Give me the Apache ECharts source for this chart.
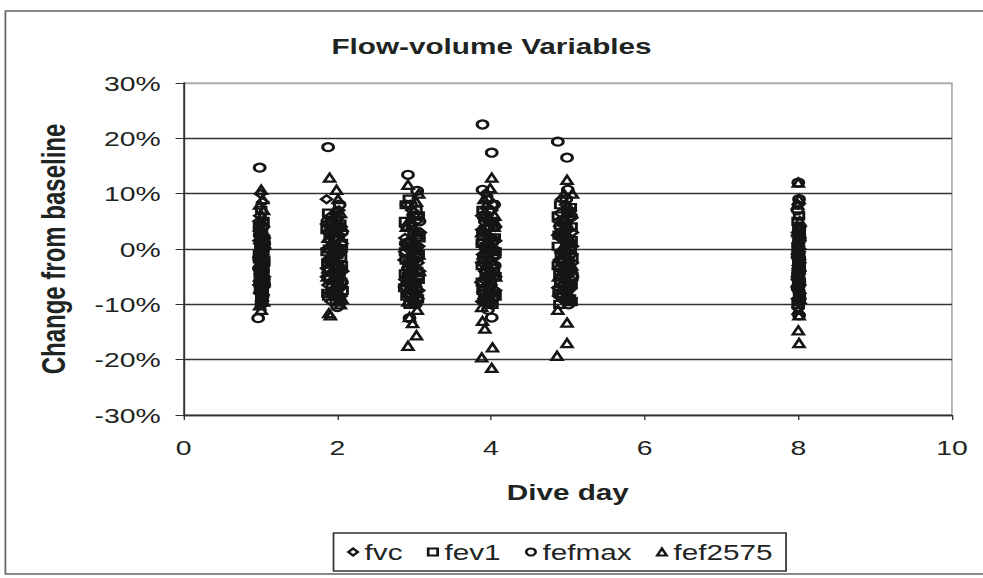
<!DOCTYPE html>
<html>
<head>
<meta charset="utf-8">
<script src="https://cdn.jsdelivr.net/npm/echarts@6.0.0/dist/echarts.min.js"></script>
<style>
html,body{margin:0;padding:0;background:#fff;}
#wrap{width:983px;height:578px;overflow:hidden;position:relative;background:#fff;}
#chart{width:728px;height:578px;transform:scaleX(1.3503);transform-origin:0 0;}
</style>
</head>
<body>
<div id="wrap"><div id="chart"></div></div>
<script>
// Tick labels / axis settings
const xTicks = [0, 2, 4, 6, 8, 10];
const yTicks = [-30, -20, -10, 0, 10, 20, 30];
const seriesNames = ['fvc', 'fev1', 'fefmax', 'fef2575'];

// [dive day (with scatter jitter), change from baseline in %]
const fvc = [
  [1.00,10],[1.03,8.5],[0.99,6],[1.04,4],[1.01,3],[1.05,2],[0.99,1],[1.02,0.5],[1.05,0],[1.00,-0.5],[1.03,-1],[0.98,-1.5],[1.04,-2],[1.01,-2.5],[1.04,-3],[0.99,-3.5],[1.02,-4],[1.05,-5],[1.00,-6],[1.03,-7],[0.99,-8],[1.02,-9.5],
  [0.98,5],[1.02,4.5],[1.00,3.5],[1.04,2.5],[0.98,1.5],[1.02,-0.2],[0.99,-2],[1.03,-3.2],[1.00,-4.5],[1.04,-5.5],[0.98,-6.5],[1.02,-7.5],
  [1.86,9],[2.02,7],[1.95,5],[2.05,4],[1.88,3],[1.98,2],[2.06,1],[1.87,0],[1.96,-0.5],[2.03,-1],[1.89,-2],[2.00,-3],[2.07,-4],[1.86,-5],[1.97,-6],[2.04,-7],[1.90,-8],[2.01,-9],
  [1.92,6],[2.00,5.5],[1.86,4.5],[1.94,3.5],[2.03,2.5],[1.90,1.5],[1.99,0.5],[2.05,-0.5],[1.92,-1.5],[1.86,-3.5],[1.94,-4.5],[2.02,-5.5],[1.88,-6.5],[1.95,-7.5],[2.05,-8.5],[1.92,-9.5],
  [2.90,8],[3.05,6],[2.95,4.5],[3.08,3],[2.88,2],[3.00,1],[3.06,0.5],[2.92,0],[3.02,-1],[2.87,-2],[2.98,-3],[3.07,-4],[2.91,-5],[3.03,-6],[2.89,-7],[2.99,-8],[3.05,-9],
  [2.97,7],[3.03,5],[2.89,4],[2.99,3.5],[3.06,2],[2.93,1.5],[2.88,-0.5],[2.97,-1.5],[3.05,-2.5],[2.92,-3.5],[3.00,-4.5],[2.88,-5.5],[2.96,-6.5],[3.06,-7.5],[2.92,-8.5],[3.00,-9.5],
  [3.93,10],[4.04,8],[3.88,6],[3.98,5],[4.06,4],[3.90,3],[4.01,2],[3.95,1],[4.05,0],[3.89,-1],[3.99,-2],[4.03,-3],[3.92,-4],[4.06,-5],[3.87,-6],[3.97,-7],[4.02,-8],[3.91,-9],[4.00,-10],
  [3.96,9],[4.01,7],[3.91,5.5],[4.03,4.5],[3.88,3.5],[3.96,2.5],[4.06,1.5],[3.90,0.5],[3.98,-0.5],[4.05,-1.5],[3.88,-2.5],[3.95,-3.5],[4.03,-4.5],[3.90,-5.5],[4.00,-6.5],[4.06,-7.5],[3.93,-8.5],[3.88,-9.5],
  [4.92,9],[5.03,7],[4.88,5],[4.98,4],[5.06,3],[4.90,2],[5.01,1],[4.95,0],[5.05,-1],[4.89,-2],[4.99,-3],[5.04,-4],[4.91,-5],[5.02,-6],[4.87,-7],[4.97,-8],[5.03,-9],
  [4.97,8],[4.90,6.5],[5.04,5.5],[4.93,4.5],[5.01,3.5],[4.87,2.5],[4.96,1.5],[5.06,0.5],[4.91,-0.5],[4.98,-1.5],[5.06,-2.5],[4.88,-3.5],[4.96,-4.5],[5.04,-5.5],[4.92,-6.5],[5.00,-7.5],[4.88,-8.5],[4.96,-9.5],
  [8.00,8],[8.02,4],[7.99,3],[8.01,2],[8.00,1],[8.02,0],[7.99,-1],[8.01,-2],[8.00,-3],[8.02,-4],[7.99,-5],[8.01,-6],[8.00,-7],[8.02,-8],[7.99,-9],
  [8.01,3.5],[7.99,2.5],[8.02,1.5],[8.00,0.5],[8.01,-0.5],[7.99,-1.5],[8.02,-2.5],[8.00,-3.5],[8.01,-4.5],[7.99,-5.5],[8.02,-6.5],[8.00,-7.5]
];
const fev1 = [
  [1.01,7],[1.04,5],[0.99,3],[1.02,2],[1.05,1.5],[1.00,0.5],[1.03,-0.5],[0.98,-1],[1.05,-2],[1.01,-3],[1.04,-4],[0.99,-4.5],[1.02,-5.5],[1.05,-6],[1.00,-7],[1.03,-8],[1.01,-9],
  [0.98,4],[1.02,2.8],[1.00,1],[1.04,0],[0.98,-1.8],[1.02,-2.5],[1.00,-3.5],[1.03,-5],[0.99,-6.3],[1.02,-7.5],
  [1.88,6.5],[1.99,6],[2.04,4.5],[1.86,3.5],[1.96,2],[2.06,1],[1.89,0],[2.00,-1],[2.05,-1.5],[1.87,-2.5],[1.97,-3.5],[2.03,-4.5],[1.90,-5.5],[2.01,-6.5],[2.07,-7.5],[1.88,-8.5],[1.98,-9.5],
  [1.92,5],[2.00,4],[1.90,2.8],[2.02,2],[1.93,0.5],[1.86,-0.5],[1.95,-2],[2.06,-3],[1.88,-4],[1.99,-5],[2.05,-6],[1.93,-7],[1.87,-8],[2.03,-9],
  [2.93,9],[3.03,7],[2.88,5],[2.99,3],[3.07,2],[2.91,1],[3.01,0],[3.06,-1],[2.89,-2],[2.97,-3],[3.04,-4],[2.92,-5],[3.02,-6],[2.87,-7],[2.96,-8],[3.05,-9],[2.94,-10],
  [2.89,8],[3.06,6],[2.97,4],[3.03,2.5],[2.95,0.5],[2.88,-0.5],[3.04,-1.5],[2.93,-2.5],[2.99,-3.5],[2.88,-4.5],[3.06,-5.5],[2.95,-6.5],[3.03,-7.5],[2.90,-8.5],[2.99,-9.5],
  [3.95,9],[3.89,7],[4.03,5],[3.92,3.5],[4.05,2],[3.88,1],[3.99,0],[4.04,-1],[3.90,-2],[4.01,-3],[3.94,-4],[4.06,-5],[3.88,-6],[3.98,-7],[4.03,-8],[3.91,-9],[4.02,-10],
  [4.02,8],[3.92,6],[3.98,4],[3.89,2.5],[4.02,1.5],[3.93,0.5],[4.06,-0.5],[3.96,-1.5],[3.88,-3],[4.04,-3.5],[3.93,-5],[4.00,-6],[3.89,-7.5],[4.06,-8.5],[3.95,-9.5],
  [4.90,8],[5.00,6.5],[4.94,5],[5.05,4],[4.88,2.5],[4.98,1],[5.04,0],[4.91,-1],[5.01,-2],[4.87,-3],[4.96,-4],[5.06,-5],[4.90,-6],[5.00,-7],[4.93,-8],[5.03,-9],[4.89,-10],
  [5.04,7.5],[4.87,6],[4.98,4.5],[4.91,3],[5.05,1.5],[4.87,0.5],[4.97,-0.5],[5.06,-1.5],[4.92,-2.5],[5.02,-3.5],[4.89,-4.5],[4.97,-5.5],[5.05,-6.5],[4.88,-7.5],[4.99,-8.5],[5.05,-9.5],
  [8.01,6],[7.99,5],[8.02,3],[8.00,1],[8.01,0],[7.99,-1],[8.02,-2],[8.00,-3],[8.01,-4],[7.99,-5],[8.02,-6],[8.00,-7],[8.01,-8],[7.99,-10],
  [8.00,4],[8.02,2],[7.99,0.5],[8.01,-1.5],[8.00,-2.5],[8.02,-3.5],[7.99,-4.5],[8.01,-5.5],[8.00,-6.5],[8.02,-8.5],[8.00,-9.5]
];
const fefmax = [
  [0.99,14.7],[1.03,4],[0.99,2.5],[1.05,1],[1.00,-1],[1.04,-2.5],[0.98,-3.5],[1.02,-5],[1.05,-6.5],[1.00,-7.5],[1.03,-8.5],[1.01,-10],[0.97,-12.5],
  [1.01,0],[0.99,-2],[1.03,-4],[1.00,-6],[1.02,-9],
  [1.88,18.4],[2.03,8],[1.87,5],[1.99,2],[2.05,0],[1.89,-2],[2.00,-4],[2.06,-6],[1.93,-8],[2.04,-9.5],[2.00,-10.5],
  [1.92,3.5],[2.06,3],[1.95,-1],[1.88,-5],[2.02,-7],
  [2.92,13.4],[3.04,10.5],[2.96,8],[3.07,5],[2.89,1],[3.00,-2],[3.05,-5],[2.92,-8],[3.02,-10],[2.94,-12.5],
  [2.99,6],[3.05,3],[2.92,-3.5],[3.00,-6.5],
  [3.89,22.5],[4.01,17.4],[3.89,10.7],[4.04,8],[3.92,5],[4.00,2],[3.94,0],[4.05,-3],[3.90,-6],[4.02,-9],[3.96,-11],[4.01,-12.4],
  [3.97,7],[4.05,4],[3.89,1],[4.00,-4.5],[3.92,-8],
  [4.87,19.4],[4.99,16.5],[5.00,10.7],[4.98,9],[4.90,4],[5.03,1],[4.95,-2],[5.06,-5],[4.89,-8],[5.01,-10],
  [5.04,6],[4.93,2.5],[4.98,-3.5],[5.03,-7],
  [8.00,12],[8.01,9],[7.99,7],[8.02,2],[8.00,-1],[8.01,-4],[7.99,-7],[8.02,-9],[8.00,-10.5],[8.01,-12]
];
const fef2575 = [
  [1.01,10.7],[1.03,9],[0.99,8],[1.04,7],[1.00,5],[1.02,3],[1.05,1],[0.99,-1],[1.03,-2],[1.01,-4],[1.04,-6],[1.00,-7],[1.02,-8.5],[1.04,-9.5],[0.99,-10.2],[1.01,-11],
  [1.02,6],[0.99,4],[1.03,2],[1.00,0],[1.02,-3],[0.99,-5],[1.03,-7.5],
  [1.90,12.9],[1.99,10.7],[2.01,9],[1.97,7],[2.06,4],[1.88,2],[2.02,0.5],[1.92,-1.5],[2.05,-3],[1.87,-5],[2.00,-6.5],[1.94,-8],[2.04,-10],[1.89,-11.6],[1.91,-12],
  [1.94,5.5],[2.04,6.5],[1.88,-3.5],[1.98,-4.5],[2.06,-9],
  [2.92,11.6],[3.06,10],[2.99,7],[2.90,4],[3.03,1],[2.95,-2],[3.07,-4],[2.88,-6],[3.01,-8],[2.92,-9.5],[3.04,-11],[2.94,-12.3],[2.98,-13.4],[3.03,-15.6],[2.92,-17.5],
  [3.03,8.5],[2.95,5.5],[3.06,-1],[2.93,-5],[3.00,-7],
  [4.01,12.9],[3.99,11],[3.91,9],[4.05,6],[3.88,3],[4.01,0],[3.93,-3],[4.06,-5],[3.90,-7],[4.00,-9],[3.88,-10.5],[3.89,-13],[3.92,-14.4],[4.02,-17.8],[3.88,-19.6],[4.01,-21.5],
  [3.94,8],[4.04,4],[3.90,-1],[4.02,-4],[3.95,-6],
  [4.99,12.5],[5.06,10],[4.99,8],[4.90,5],[5.02,2],[4.94,-1],[5.05,-3],[4.88,-5],[4.98,-7],[5.03,-9],[4.87,-11],[4.99,-13.3],[4.99,-17],[4.86,-19.3],
  [4.95,10],[5.05,6.5],[4.92,0],[5.00,-4],[4.91,-8],
  [8.00,12],[8.01,9],[7.99,8],[8.02,5],[8.00,0],[8.01,-3],[7.99,-6],[8.02,-9],[8.00,-11],[8.01,-12],[8.00,-14.7],[8.01,-17],
  [8.00,3],[8.01,-1],[8.00,-4.5]
];

const seriesData = [fvc, fev1, fefmax, fef2575];
const symbols = ['diamond', 'rect', 'circle', 'triangle'];
const sizes = [8, 7, 8, 8];

const FONT = 'Liberation Sans';
const INK = '#1e2422';

const chart = echarts.init(document.getElementById('chart'), null, {renderer: 'svg'});
chart.setOption({
  backgroundColor: '#fff',
  animation: false,
  title: {
    text: 'Flow-volume Variables',
    left: 'center',
    top: 30,
    padding: [5, 5, 5, 25],
    textStyle: {fontFamily: FONT, fontWeight: 'bold', fontSize: 22, color: INK}
  },
  grid: {
    left: 136, right: 23, top: 83, bottom: 163,
    show: true, borderColor: '#999', borderWidth: 1, backgroundColor: 'transparent'
  },
  legend: {
    data: seriesNames,
    left: 247, top: 533,
    padding: [8, 10, 8, 10],
    itemGap: 18,
    itemWidth: 7, itemHeight: 7,
    borderColor: '#333', borderWidth: 1.3,
    textStyle: {fontFamily: FONT, fontSize: 22, color: INK}
  },
  xAxis: {
    type: 'value', min: xTicks[0], max: xTicks[xTicks.length - 1], interval: 2,
    name: 'Dive day', nameLocation: 'middle', nameGap: 66,
    nameTextStyle: {fontFamily: FONT, fontWeight: 'bold', fontSize: 22, color: INK},
    axisLine: {show: true, onZero: false, lineStyle: {color: '#333', width: 1.3}},
    axisTick: {show: true, length: 5, lineStyle: {color: '#333'}},
    axisLabel: {fontFamily: FONT, fontSize: 21, color: INK, margin: 22},
    splitLine: {show: false}
  },
  yAxis: {
    type: 'value', min: yTicks[0], max: yTicks[yTicks.length - 1], interval: 10,
    name: 'Change from baseline', nameLocation: 'middle', nameGap: 84,
    nameTextStyle: {fontFamily: FONT, fontWeight: 'bold', fontSize: 24, color: INK},
    axisLine: {show: true, lineStyle: {color: '#333', width: 1.3}},
    axisTick: {show: true, length: 6, lineStyle: {color: '#333'}},
    axisLabel: {fontFamily: FONT, fontSize: 21, color: INK, margin: 17, formatter: '{value}%'},
    splitLine: {show: true, lineStyle: {color: ['#333','#333','#333','#333','#333','#333','#aaa'], width: 1.3}}
  },
  graphic: [{
    type: 'polyline', silent: true,
    shape: {points: [[800, 11], [4, 11], [4, 574], [800, 574]]},
    style: {fill: 'none', stroke: '#666', lineWidth: 1.3}
  }],
  series: seriesData.map((d, i) => ({
    name: seriesNames[i],
    type: 'scatter',
    data: d,
    symbol: symbols[i],
    symbolSize: sizes[i],
    itemStyle: {color: 'rgba(0,0,0,0)', borderColor: '#151515', borderWidth: 2.2, opacity: 1}
  }))
});
</script>
</body>
</html>
